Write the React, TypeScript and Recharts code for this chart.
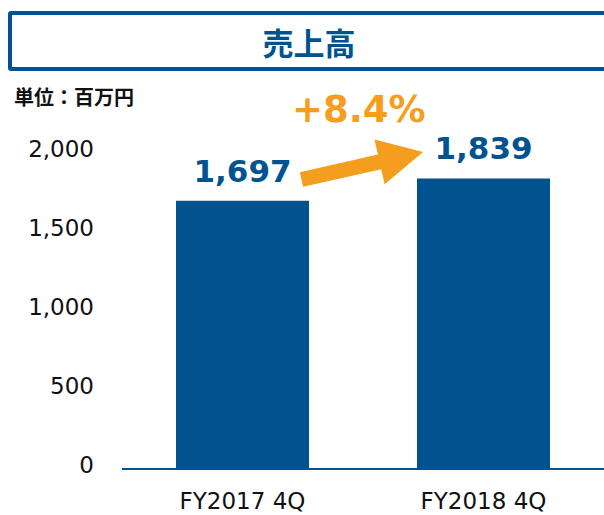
import React from "react";
import { BarChart, Bar, XAxis, YAxis, LabelList } from "recharts";

const categories = ["FY2017 4Q", "FY2018 4Q"];
const sales = [1697, 1839];
const yTicks = [0, 500, 1000, 1500, 2000];
const growthLabel = "+8.4%";

const BLUE = "#00538f";
const ORANGE = "#f59d1e";
const FONT = "'DejaVu Sans', Verdana, sans-serif";

const data = categories.map((name, i) => ({ name, value: sales[i] }));

const YTick = (props: any) => {
    const { x, y, payload } = props;
    return (
        <text x={x} y={y} dy={4} textAnchor="end" fill="#111" fontSize={23} fontFamily={FONT}>
            {payload.value.toLocaleString("en-US")}
        </text>
    );
};

const XTick = (props: any) => {
    const { x, y, payload } = props;
    return (
        <text x={x} y={y} dy={38} textAnchor="middle" fill="#111" fontSize={23} fontFamily={FONT}>
            {payload.value}
        </text>
    );
};

export default function App() {
    return (
        <div style={{ position: "absolute", left: 0, top: 0, width: 604, height: 515, overflow: "hidden", background: "#fff" }}>
            {/* title box */}
            <div
                style={{
                    position: "absolute", left: 8, top: 11, width: 602, height: 60,
                    boxSizing: "border-box", border: `4px solid ${BLUE}`, borderRadius: 3,
                    display: "flex", alignItems: "center", justifyContent: "center",
                    color: BLUE, fontSize: 31, fontWeight: 700,
                    fontFamily: "'Noto Sans CJK JP', sans-serif"
                }}
            >
                売上高
            </div>
            <div
                style={{
                    position: "absolute", left: 14, top: 84, fontSize: 20, fontWeight: 700,
                    color: "#111", fontFamily: "'Noto Sans CJK JP', sans-serif", lineHeight: "26px"
                }}
            >
                単位：百万円
            </div>

            <BarChart
                width={604}
                height={515}
                data={data}
                margin={{ top: 153, right: 0, bottom: 16, left: 0 }}
                style={{ position: "absolute", left: 0, top: 0 }}
            >
                <YAxis
                    width={122}
                    domain={[0, 2000]}
                    ticks={yTicks}
                    axisLine={false}
                    tickLine={false}
                    tickSize={0}
                    tickMargin={28}
                    tick={<YTick />}
                    interval={0}
                />
                <XAxis
                    dataKey="name"
                    height={30}
                    axisLine={{ stroke: BLUE, strokeWidth: 2 }}
                    tickLine={false}
                    tickSize={0}
                    tick={<XTick />}
                    interval={0}
                />
                <Bar dataKey="value" fill={BLUE} barSize={133} isAnimationActive={false}>
                    <LabelList
                        dataKey="value"
                        position="top"
                        offset={19}
                        formatter={(v: any) => Number(v).toLocaleString("en-US")}
                        fill={BLUE}
                        fontSize={31}
                        fontWeight={700}
                        fontFamily={FONT}
                    />
                </Bar>
            </BarChart>

            {/* growth annotation */}
            <svg width={604} height={515} style={{ position: "absolute", left: 0, top: 0, pointerEvents: "none" }}>
                <text x={292} y={122} fill={ORANGE} fontSize={37} fontWeight={700} fontFamily={FONT}>
                    {growthLabel}
                </text>
                <g transform="translate(301.5 179.5) rotate(-12.7)">
                    <polygon
                        points="0,-7.5 80,-7.5 80,-23 124.6,0 80,23 80,7.5 0,7.5"
                        fill={ORANGE}
                    />
                </g>
            </svg>
        </div>
    );
}
